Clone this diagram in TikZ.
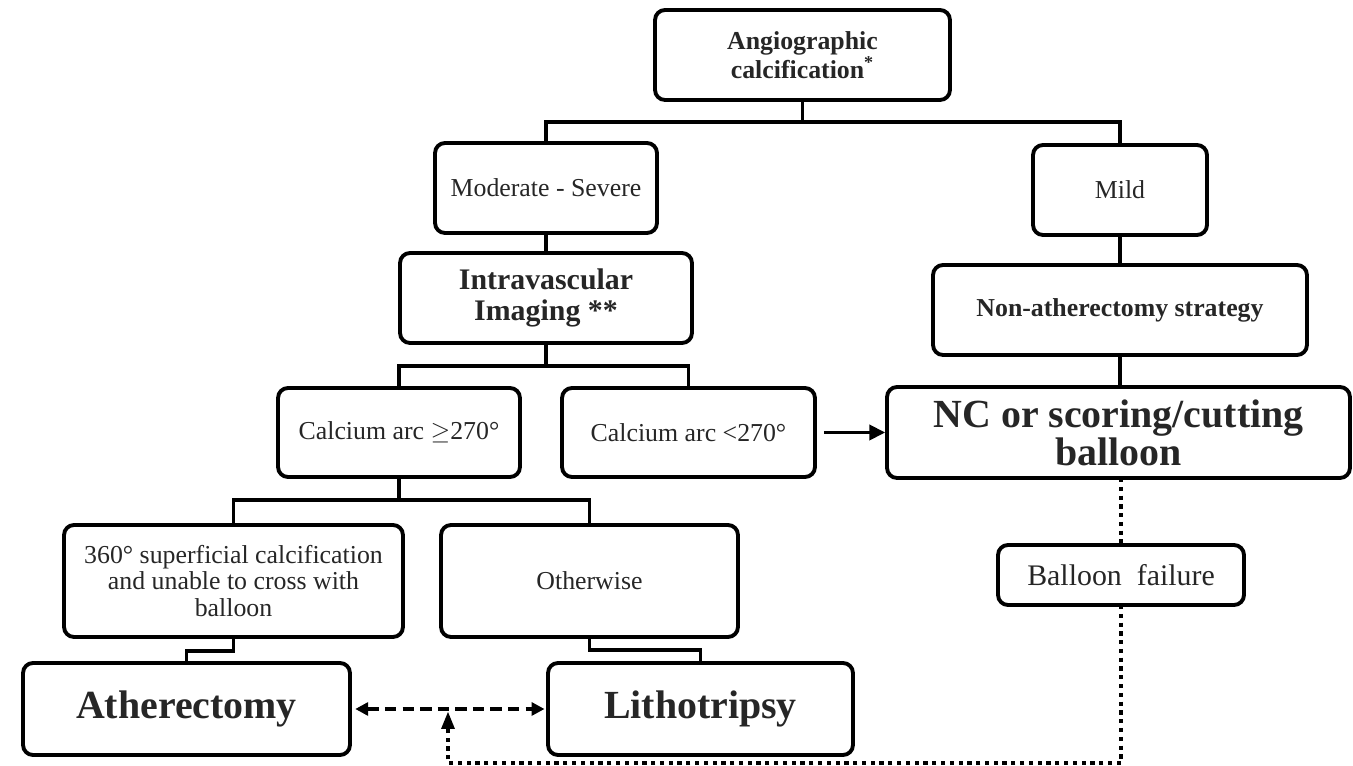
\documentclass[tikz,border=0pt]{standalone}
\usepackage{fontspec}
\setmainfont{Liberation Serif}
\usetikzlibrary{arrows.meta}
\begin{document}
\begin{tikzpicture}[x=0.02cm,y=-0.02cm,
  box/.style={draw=black,line width=2.2pt,rounded corners=0.2cm,align=center,inner sep=0pt,outer sep=0pt,text=black!85},
  conn/.style={draw=black,line width=2.2pt},
  dotline/.style={draw=black,line width=2.4pt,dash pattern=on 2.4pt off 2.6pt},
  dashline/.style={draw=black,line width=2.1pt,dash pattern=on 6.5pt off 3.5pt},
  tip/.style={-{Triangle[length=0.32cm,width=0.3cm]}},
  small/.style={font=\fontsize{14.7pt}{15.3pt}\selectfont},
  smallb/.style={font=\fontsize{14.7pt}{14.3pt}\selectfont\bfseries},
  midb/.style={font=\fontsize{17pt}{18.1pt}\selectfont\bfseries},
  bigb/.style={font=\fontsize{22.7pt}{19.9pt}\selectfont\bfseries}]
\useasboundingbox (0,0) rectangle (1353,766);

\node[box,smallb,minimum width=5.9cm,minimum height=1.8cm] (a) at (802.5,55) {Angiographic\\calcification\textsuperscript{*}};
\node[box,small,minimum width=4.44cm,minimum height=1.8cm] (ms) at (546,188) {Moderate - Severe};
\node[box,small,minimum width=3.48cm,minimum height=1.8cm] (mild) at (1120,190) {Mild};
\node[box,midb,minimum width=5.84cm,minimum height=1.8cm] (iv) at (546,298) {Intravascular\\Imaging **};
\node[box,smallb,minimum width=7.48cm,minimum height=1.8cm] (non) at (1120,310) {Non-atherectomy strategy};
\node[box,small,minimum width=4.84cm,minimum height=1.78cm] (c1) at (399,432.5) {Calcium arc $\geq$270°};
\node[box,small,minimum width=5.06cm,minimum height=1.78cm] (c2) at (688.5,432.5) {Calcium arc <270°};
\node[box,bigb,minimum width=9.26cm,minimum height=1.82cm] (nc) at (1118.5,432.5) {NC or scoring/cutting\\balloon};
\node[box,small,minimum width=6.78cm,minimum height=2.24cm] (s360) at (233.5,581) {360° superficial calcification\\and unable to cross with\\balloon};
\node[box,small,minimum width=5.94cm,minimum height=2.24cm] (oth) at (589.5,581) {Otherwise};
\node[box,bigb,minimum width=6.54cm,minimum height=1.84cm] (ath) at (186.5,709) {Atherectomy};
\node[box,bigb,minimum width=6.1cm,minimum height=1.84cm] (lit) at (700.5,709) {Lithotripsy};
\node[box,font=\fontsize{17pt}{18pt}\selectfont,minimum width=4.92cm,minimum height=1.2cm] (bf) at (1121,575) {Balloon\ \ failure};

\coordinate (up) at (448,719);

% tree connectors
\draw[conn] (a.south) -- ++(0,22);
\draw[conn] (ms.north) -- ++(0,-21) -| (mild.north);
\draw[conn] (ms.south) -- (iv.north);
\draw[conn] (iv.south) -- ++(0,23);
\draw[conn] (c1.north) -- ++(0,-22) -| (c2.north);
\draw[conn] (mild.south) -- (non.north);
\draw[conn] (non.south) -- (non.south |- nc.north);
\draw[conn] (c1.south) -- ++(0,23);
\draw[conn] (s360.north) -- ++(0,-25) -| (oth.north);
\draw[conn] (s360.south) -- ++(0,14) -| (ath.north);
\draw[conn] (oth.south) -- ++(0,13) -| (lit.north);

% arrows
\draw[conn,tip,shorten <=5pt,shorten >=1pt] (c2.east) -- (nc.west);
\draw[dashline,{Triangle[length=0.26cm,width=0.26cm]}-{Triangle[length=0.26cm,width=0.26cm]},shorten <=3pt,shorten >=2pt] (ath.east) -- (lit.west);

% dotted failure path
\draw[dotline] (bf.north |- nc.south) -- (bf.north);
\draw[dotline] (bf.south) -- (bf.south |- 0,763) -| (up);
\fill[black] (up) ++(-7,10) -- ++(7,-17) -- ++(7,17) -- cycle;
\end{tikzpicture}
\end{document}
